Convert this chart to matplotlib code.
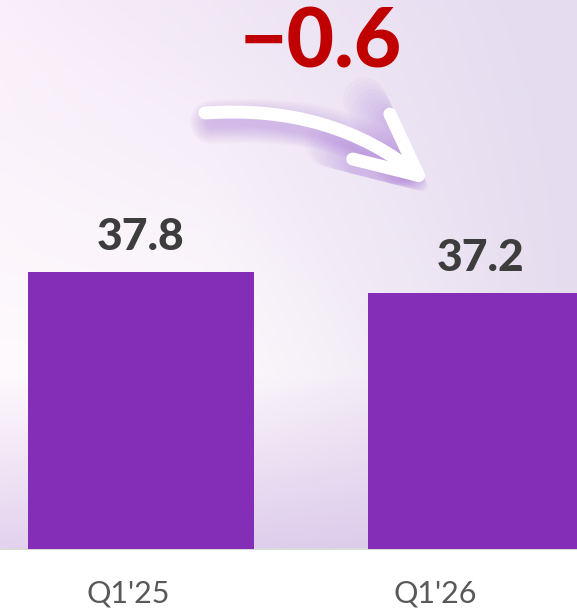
#!/usr/bin/env python3

import numpy as np
import matplotlib
matplotlib.use('Agg')
import matplotlib.pyplot as plt
from matplotlib.patches import FancyArrowPatch, ArrowStyle

periods = ["Q1'25", "Q1'26"]
values = [37.8, 37.2]
change_label = "\u22120.6"

W, H = 577, 611
BASE = 549  # baseline, pixels from top

plt.rcParams['font.family'] = ['Lato', 'DejaVu Sans']
fig = plt.figure(figsize=(W / 100, H / 100), dpi=100)
fig.patch.set_facecolor('white')

# background gradient above the baseline
bg = fig.add_axes([0, (H - BASE) / H, 1, BASE / H])
bg.set_axis_off()
ny, nx = 200, 200
yy = np.linspace(0, 1, ny)[:, None]   # 0 top, 1 bottom
xx = np.linspace(0, 1, nx)[None, :]
top_l = np.array([249, 239, 250]) / 255
top_r = np.array([229, 220, 240]) / 255
mid_l = np.array([254, 250, 253]) / 255
mid_r = np.array([222, 212, 234]) / 255
bot_l = np.array([228, 210, 238]) / 255
bot_r = np.array([218, 200, 234]) / 255


def lerp(a, b, t):
	return a + (b - a) * t[..., None]


hx = np.clip(xx * 1.1, 0, 1) * np.ones((ny, 1))
top = lerp(top_l, top_r, hx)
mid = lerp(mid_l, mid_r, np.clip(xx * 1.0 - 0.35, 0, 1) * np.ones((ny, 1)) * 1.2)
bot = lerp(bot_l, bot_r, hx)
t1 = np.clip(yy / 0.68, 0, 1) * np.ones((1, nx))
t2 = np.clip((yy - 0.68) / 0.32, 0, 1) * np.ones((1, nx))
img = np.where((yy < 0.68)[..., None] * np.ones((1, nx, 1)) > 0,
	lerp(top, mid, t1), lerp(mid, bot, t2))
img = np.clip(img, 0, 1)
bg.imshow(img, aspect='auto', extent=[0, 1, 0, 1], interpolation='bicubic')
bg.set_xlim(0, 1)
bg.set_ylim(0, 1)

ax = fig.add_axes([0, (H - BASE) / H, 1, BASE / H])
ax.patch.set_alpha(0)
x = np.arange(len(values))
ax.bar(x, values, width=0.665, color='#842db7', zorder=3)
ax.set_xlim(-0.4147, 1.2824)
ymin = 29.886
ax.set_ylim(ymin, ymin + BASE / 35.0)

for xi, v in zip(x, values):
	ax.annotate(f"{v:.1f}", (xi, v), xytext=(0, 11), textcoords='offset points',
		ha='center', va='bottom', fontsize=32, fontweight='black', color='#3d3d3d')

# category labels sit a little left of the bar centres in the original
ax.set_xticks(x - np.array([0.038, 0.135]))
ax.set_xticklabels(periods, fontsize=22, color='#595959')
ax.tick_params(axis='x', length=0, pad=22)
ax.set_yticks([])
for s in ['top', 'left', 'right']:
	ax.spines[s].set_visible(False)
ax.spines['bottom'].set_color('#dadada')
ax.spines['bottom'].set_linewidth(1.5)

# change label
fig.text(320.5 / W, 1 - 67 / H, change_label, ha='center', va='baseline',
	fontsize=59, fontweight='black', color='#c00000')


def px(xp, yp):
	return (xp / W, 1 - yp / H)


head = ArrowStyle('->', head_length=0.44, head_width=0.21)

# glow under the arrow
for i in range(12):
	lw = 44 - i * 3
	glow = FancyArrowPatch(px(212, 122), px(432, 194), transform=fig.transFigure,
		connectionstyle='arc3,rad=-0.2', arrowstyle=head,
		mutation_scale=100, shrinkA=0, shrinkB=0,
		color='#9c5fd2', alpha=0.03, linewidth=lw * 0.72,
		capstyle='round', joinstyle='round')
	fig.add_artist(glow)

arrow = FancyArrowPatch(px(205, 113), px(430, 185), transform=fig.transFigure,
	connectionstyle='arc3,rad=-0.2', arrowstyle=head,
	mutation_scale=100, shrinkA=0, shrinkB=0,
	color='white', linewidth=9.3, capstyle='round', joinstyle='round')
fig.add_artist(arrow)

fig.savefig('out.png', dpi=100, facecolor='white')
